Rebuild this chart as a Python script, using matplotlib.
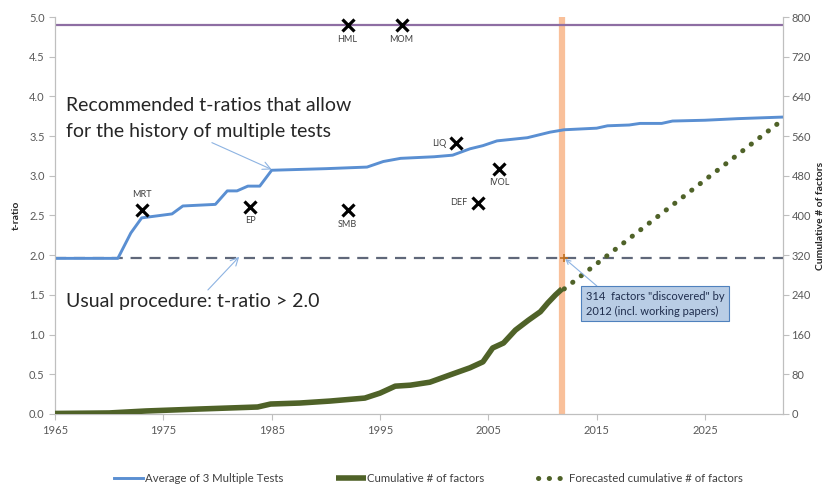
import matplotlib.pyplot as plt

plt.rcParams['font.family'] = ['Lato', 'DejaVu Sans']

# recommended t-ratio hurdle (average of 3 multiple-testing adjustments)
avg_years = [1965, 1970.8, 1972.0, 1973.0, 1975.8, 1976.8, 1979.8, 1980.9, 1981.8,
             1982.8, 1983.9, 1985.0, 1990.0, 1993.8, 1995.3, 1996.9, 2000.0,
             2001.7, 2003.3, 2004.5, 2005.8, 2008.6, 2010.7, 2012.0, 2015.0,
             2016.0, 2018.0, 2019.0, 2021.0, 2022.0, 2025.0, 2028.0, 2032.2]
avg_t = [1.96, 1.96, 2.28, 2.47, 2.52, 2.62, 2.64, 2.81, 2.81,
         2.87, 2.87, 3.07, 3.09, 3.11, 3.18, 3.22, 3.24,
         3.26, 3.34, 3.38, 3.44, 3.48, 3.55, 3.58, 3.60,
         3.63, 3.64, 3.66, 3.66, 3.69, 3.70, 3.72, 3.74]

# cumulative number of factors (right axis)
cum_years = [1965, 1970, 1973.4, 1978.4, 1983.7, 1984.9, 1987.6, 1990.4, 1993.6,
             1995.0, 1996.4, 1997.8, 1999.6, 2001.5, 2003.3, 2004.5, 2005.4,
             2006.4, 2007.5, 2008.7, 2009.8, 2010.5, 2011.2, 2011.8]
cum_factors = [1, 2, 6, 10, 14, 20, 22, 26, 32,
               42, 56, 58, 64, 79, 93, 105, 133,
               143, 169, 189, 206, 224, 240, 252]

# forecast (end points of the dotted trend)
fc_years = [2012.0, 2032.0]
fc_factors = [252, 590]

# individual factors: name, year, t-ratio
factor_names = ['MRT', 'EP', 'SMB', 'HML', 'MOM', 'LIQ', 'IVOL', 'DEF']
factor_years = [1973, 1983, 1992, 1992, 1997, 2002, 2006, 2004]
factor_t = [2.57, 2.61, 2.57, 4.9, 4.9, 3.41, 3.09, 2.66]
label_pos = ['above', 'below', 'below', 'below', 'below', 'left', 'below', 'left']

usual_t = 1.96
cap_t = 4.9
discovered_year = 2012
discovered_n = 314

blue = '#5A8FD2'
green = '#4F6228'
grey = '#595959'
spine_c = '#BFBFBF'

fig = plt.figure(figsize=(8.25, 4.87), dpi=100)
ax = fig.add_axes([0.0667, 0.150, 0.8824, 0.815])
ax2 = ax.twinx()

ax.axvline(2011.8, color='#F9C09A', lw=4.5, zorder=1)
ax.axhline(cap_t, color='#8E6EA3', lw=1.6, zorder=2)
ax.axhline(usual_t, color='#5F6779', lw=1.6, dashes=(5, 3.5), zorder=3)
l1, = ax.plot(avg_years, avg_t, color=blue, lw=2.1, zorder=4,
              label='Average of 3 Multiple Tests')

l2, = ax2.plot(cum_years, cum_factors, color=green, lw=4.0, zorder=4,
               solid_capstyle='butt', label='Cumulative # of factors')
l3, = ax2.plot(fc_years, fc_factors, color=green, lw=3.6, zorder=4,
               dashes=(0.05, 2.1), dash_capstyle='round',
               label='Forecasted cumulative # of factors')

ax.plot(factor_years, factor_t, ls='none', marker='x', color='black',
        ms=8, mew=2.3, zorder=6, clip_on=False)
for name, yr, t, pos in zip(factor_names, factor_years, factor_t, label_pos):
    if pos == 'above':
        ax.annotate(name, (yr, t), xytext=(0, 8), textcoords='offset points',
                    ha='center', va='bottom', fontsize=6.5, color='#404040')
    elif pos == 'below':
        ax.annotate(name, (yr, t), xytext=(0, -7), textcoords='offset points',
                    ha='center', va='top', fontsize=6.5, color='#404040')
    else:
        ax.annotate(name, (yr, t), xytext=(-7, 0), textcoords='offset points',
                    ha='right', va='center', fontsize=6.5, color='#404040')

arrow_c = '#8DB3E2'
ax.annotate('Recommended t-ratios that allow\nfor the history of multiple tests',
            xy=(1985.0, 3.08), xytext=(1966.0, 3.72), fontsize=14, color='#262626',
            ha='left', va='center', linespacing=1.6,
            arrowprops=dict(arrowstyle='->', color=arrow_c, lw=0.8,
                            shrinkA=0, shrinkB=0, relpos=(0.49, 0.0)))
ax.annotate('Usual procedure: t-ratio > 2.0',
            xy=(1982.0, 1.98), xytext=(1966.0, 1.42), fontsize=14, color='#262626',
            ha='left', va='center',
            arrowprops=dict(arrowstyle='->', color=arrow_c, lw=0.8,
                            shrinkA=0, shrinkB=0, relpos=(0.55, 1.0)))

ax2.plot([discovered_year], [discovered_n], marker='+', color='#C07020',
         ms=6, mew=1.2, zorder=7)
ax2.annotate('%d  factors "discovered" by\n%d (incl. working papers)' % (discovered_n, discovered_year),
             xy=(discovered_year, discovered_n), xytext=(2014.0, 222),
             fontsize=8, color='#1F2D4D', ha='left', va='center', linespacing=1.45,
             bbox=dict(boxstyle='square,pad=0.4', fc='#B9CDE5', ec='#4F81BD', lw=0.8),
             arrowprops=dict(arrowstyle='->', color=arrow_c, lw=0.8,
                             shrinkA=0, shrinkB=1, relpos=(0.12, 1.0)), zorder=8)

ax.set_xlim(1965, 2032.2)
ax.set_ylim(0, 5)
ax2.set_ylim(0, 800)
ax.set_xticks(range(1965, 2030, 10))
ax.set_yticks([i * 0.5 for i in range(11)])
ax.set_yticklabels(['%.1f' % (i * 0.5) for i in range(11)])
ax2.set_yticks(range(0, 801, 80))

for a in (ax, ax2):
    for s in a.spines.values():
        s.set_color(spine_c)
    a.spines['top'].set_visible(False)
    a.tick_params(colors=grey, labelsize=8, length=4, width=0.8)
    a.tick_params(axis='both', color=spine_c)
ax.tick_params(axis='x', pad=4)
ax2.tick_params(axis='y', pad=2)

ax.set_ylabel('t-ratio', fontsize=7.5, fontweight='bold', color='#262626', labelpad=6)
ax2.set_ylabel('Cumulative # of factors', fontsize=7.5, fontweight='bold',
               color='#262626', labelpad=4)

fig.legend(handles=[l1, l2, l3], loc='center', bbox_to_anchor=(0.519, 0.018),
           ncol=3, frameon=False, fontsize=8.2, handlelength=2.6,
           handletextpad=0.1, columnspacing=4.7, labelcolor='#404040')

fig.savefig('out.png', dpi=100)
